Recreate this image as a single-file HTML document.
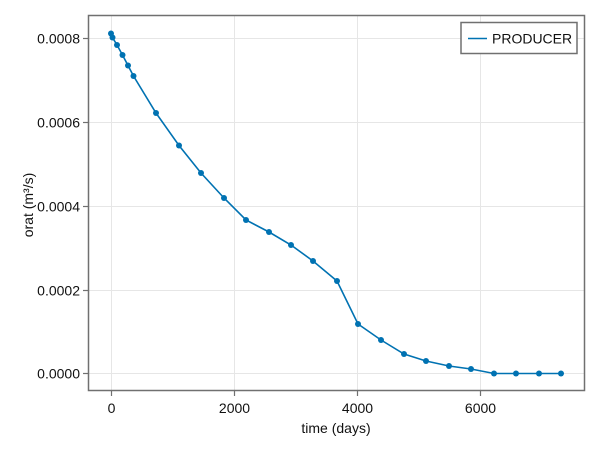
<!DOCTYPE html>
<html><head><meta charset="utf-8"><style>
html,body{margin:0;padding:0;background:#fff;width:600px;height:450px;overflow:hidden}
svg{display:block;font-family:"Liberation Sans",Arial,sans-serif}
</style></head><body>
<svg width="600" height="450" viewBox="0 0 600 450">
<g stroke="#e6e6e6" stroke-width="1">
<line x1="111.5" y1="16" x2="111.5" y2="390"/>
<line x1="234.5" y1="16" x2="234.5" y2="390"/>
<line x1="357.5" y1="16" x2="357.5" y2="390"/>
<line x1="480.5" y1="16" x2="480.5" y2="390"/>
<line x1="89" y1="38.5" x2="584" y2="38.5"/>
<line x1="89" y1="122.5" x2="584" y2="122.5"/>
<line x1="89" y1="206.5" x2="584" y2="206.5"/>
<line x1="89" y1="290.5" x2="584" y2="290.5"/>
<line x1="89" y1="373.5" x2="584" y2="373.5"/>
</g>
<rect x="88.5" y="15.5" width="496" height="375" fill="none" stroke="#707070" stroke-width="1.5"/>
<g stroke="#707070" stroke-width="1.2">
<line x1="83" y1="38.5" x2="88" y2="38.5"/><line x1="83" y1="122.5" x2="88" y2="122.5"/>
<line x1="83" y1="206.5" x2="88" y2="206.5"/><line x1="83" y1="290.5" x2="88" y2="290.5"/>
<line x1="83" y1="373.5" x2="88" y2="373.5"/>
<line x1="111.5" y1="391" x2="111.5" y2="396"/><line x1="234.5" y1="391" x2="234.5" y2="396"/>
<line x1="357.5" y1="391" x2="357.5" y2="396"/><line x1="480.5" y1="391" x2="480.5" y2="396"/>
</g>
<g font-size="14" fill="#111" text-anchor="end">
<text x="80" y="43.5">0.0008</text><text x="80" y="127.5">0.0006</text>
<text x="80" y="211.5">0.0004</text><text x="80" y="295.5">0.0002</text>
<text x="80" y="378.5">0.0000</text>
</g>
<g font-size="14" fill="#111" text-anchor="middle">
<text x="111.5" y="413">0</text><text x="234.5" y="413">2000</text>
<text x="357.5" y="413">4000</text><text x="480.5" y="413">6000</text>
<text x="336" y="433">time (days)</text>
<text transform="translate(33,205) rotate(-90)">orat (m³/s)</text>
</g>
<polyline fill="none" stroke="#0072b2" stroke-width="1.6" points="111,33.5 112.5,37.5 117,45 122.5,55 128,65.5 133.5,76 156,113 179,145.5 201,173 224,198 246,220 269,232 291,245 313,261 337,281 358,324 381,340 404,354 426,361 449,366 471,369 494,373.5 516,373.5 539,373.5 561,373.5"/>
<g fill="#0072b2">
<circle cx="111" cy="33.5" r="3"/><circle cx="112.5" cy="37.5" r="3"/><circle cx="117" cy="45" r="3"/>
<circle cx="122.5" cy="55" r="3"/><circle cx="128" cy="65.5" r="3"/><circle cx="133.5" cy="76" r="3"/>
<circle cx="156" cy="113" r="3"/><circle cx="179" cy="145.5" r="3"/><circle cx="201" cy="173" r="3"/>
<circle cx="224" cy="198" r="3"/><circle cx="246" cy="220" r="3"/><circle cx="269" cy="232" r="3"/>
<circle cx="291" cy="245" r="3"/><circle cx="313" cy="261" r="3"/><circle cx="337" cy="281" r="3"/>
<circle cx="358" cy="324" r="3"/><circle cx="381" cy="340" r="3"/><circle cx="404" cy="354" r="3"/>
<circle cx="426" cy="361" r="3"/><circle cx="449" cy="366" r="3"/><circle cx="471" cy="369" r="3"/>
<circle cx="494" cy="373.5" r="3"/><circle cx="516" cy="373.5" r="3"/><circle cx="539" cy="373.5" r="3"/>
<circle cx="561" cy="373.5" r="3"/>
</g>
<rect x="461" y="22.5" width="116" height="31" fill="#fff" stroke="#707070" stroke-width="1.5"/>
<line x1="468" y1="38.5" x2="487" y2="38.5" stroke="#0072b2" stroke-width="1.6"/>
<text x="492" y="43.5" font-size="14" fill="#111">PRODUCER</text>
</svg>
</body></html>
